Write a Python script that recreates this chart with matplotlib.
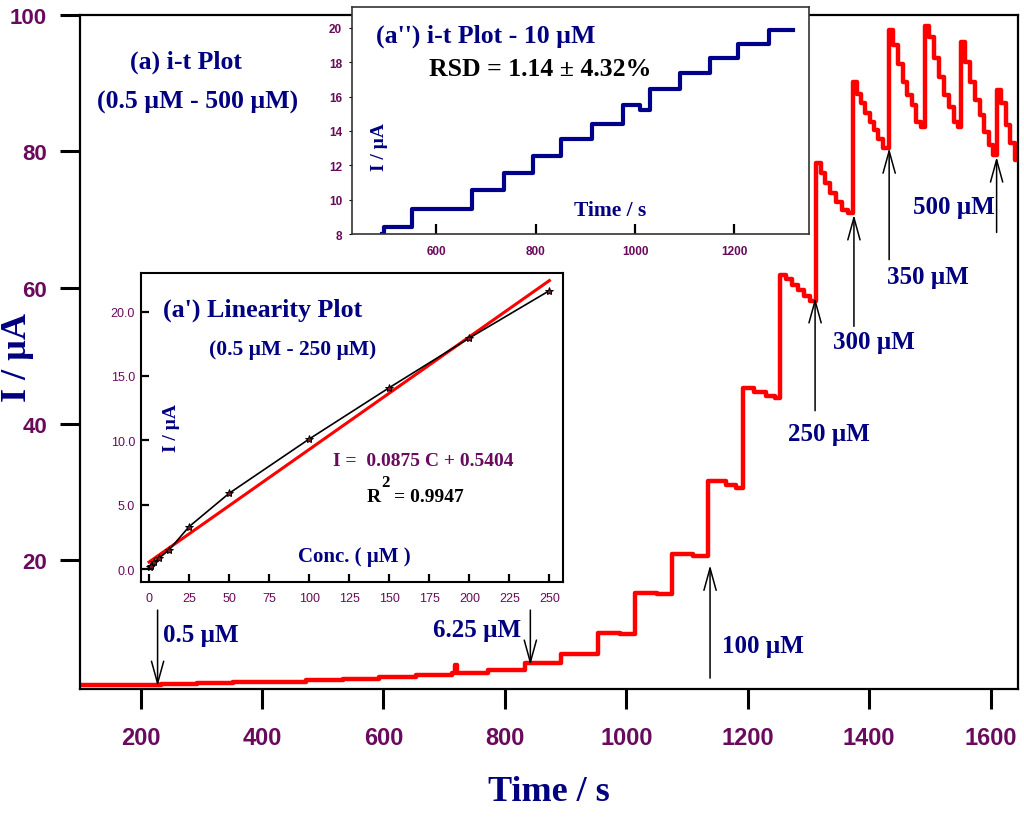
import numpy as np
import matplotlib
matplotlib.use('Agg')
import matplotlib.pyplot as plt

# ---- main i-t trace (time in s, current in uA), stepped
main_t = [100, 233, 293, 353, 413, 473, 533, 593, 653, 713, 718, 721, 773, 833, 893,
          953, 990, 1014, 1050, 1075, 1110, 1134, 1165, 1180,
          1192, 1210, 1230, 1245,
          1253, 1263, 1273, 1283, 1293, 1303,
          1312, 1320, 1328, 1336, 1345, 1355, 1365,
          1373, 1380, 1387, 1394, 1401, 1408, 1415, 1423,
          1432, 1439, 1447, 1455, 1462, 1470, 1478, 1486,
          1492, 1499, 1507, 1515, 1523, 1531, 1539, 1546,
          1551, 1558, 1566, 1574, 1582, 1590, 1597, 1604,
          1610, 1617, 1625, 1632, 1640, 1650]
main_i = [1.58, 1.73, 1.83, 1.98, 2.07, 2.27, 2.46, 2.71, 3.05, 3.39, 4.5, 3.39, 3.78, 4.76, 6.2,
          9.26, 9.1, 15.1, 15.0, 20.9, 20.5, 31.6, 31.0, 30.5,
          45.3, 44.6, 44.0, 43.8,
          61.9, 61.2, 60.4, 59.7, 58.7, 58.0,
          78.3, 76.8, 75.3, 73.9, 72.6, 71.4, 71.0,
          90.2, 88.5, 87.1, 85.6, 84.4, 83.2, 81.9, 80.5,
          97.8, 95.6, 92.9, 90.2, 88.3, 86.8, 84.4, 83.6,
          98.5, 96.8, 93.7, 91.0, 88.3, 86.6, 84.4, 83.6,
          96.1, 93.2, 90.2, 87.5, 85.3, 82.9, 81.0, 79.5,
          89.0, 87.1, 83.9, 81.2, 78.8, 78.8]

# additions marked by arrows: label, time, tail current, tip current
arrow_labels = ['0.5 µM', '6.25 µM', '100 µM', '250 µM', '300 µM', '350 µM', '500 µM']
arrow_t = [228, 842, 1138, 1311, 1375, 1433, 1610]
arrow_tail = [12.6, 12.6, 2.6, 41.9, 54.3, 64.1, 68.1]
arrow_tip = [1.4, 4.5, 19.2, 58.5, 70.7, 80.5, 79.2]
label_t = [237, 681, 1158, 1266, 1340, 1429, 1472]
label_i = [9.0, 9.7, 7.4, 38.6, 52.1, 61.6, 71.9]

# ---- inset (a''): 10 uM additions
ins_t = [491, 495, 552, 672, 736, 795, 850, 913, 976, 1010, 1031, 1091, 1150, 1208, 1269, 1317]
ins_i = [8.0, 8.43, 9.45, 10.57, 11.54, 12.55, 13.55, 14.43, 15.49, 15.2, 16.42, 17.35, 18.26, 19.09, 19.9, 19.9]

# ---- inset (a'): linearity
conc = [0.5, 1, 3.125, 6.25, 12.5, 25, 50, 100, 150, 200, 250]
conc_i = [0.13, 0.26, 0.52, 0.85, 1.48, 3.29, 5.88, 10.1, 14.09, 17.95, 21.63]
slope, intercept = 0.0875, 0.5404
fit_c = np.array([0, 250])

navy = '#000080'
purple = '#6a0a5c'
serif = 'Liberation Serif'
sans = 'Liberation Sans'


def ftext(x, y, s, **kw):
    # place text by pixel position of the 1024x820 figure
    fig.text(x / 1024, 1 - y / 820, s, **kw)


fig = plt.figure(figsize=(10.24, 8.2), dpi=100)

# main axes
ax = fig.add_axes([0.078, 0.1585, 0.916, 0.8215])
ax.plot(main_t, main_i, drawstyle='steps-post', color='red', lw=3.2)
ax.set_xlim(100, 1645)
ax.set_ylim(1, 100)
ax.set_xticks([200, 400, 600, 800, 1000, 1200, 1400, 1600])
ax.set_yticks([20, 40, 60, 80, 100])
ax.tick_params(direction='out', length=14.5, width=2.2, labelcolor=purple)
ax.tick_params(axis='x', pad=12, labelsize=17)
ax.tick_params(axis='y', pad=9, labelsize=16)
for lab in ax.get_xticklabels() + ax.get_yticklabels():
    lab.set_fontfamily(sans)
    lab.set_fontweight('bold')
for sp in ax.spines.values():
    sp.set_linewidth(1.6)

for lab, t, a0, a1, lt, li in zip(arrow_labels, arrow_t, arrow_tail, arrow_tip, label_t, label_i):
    ax.annotate('', xy=(t, a1), xytext=(t, a0),
                arrowprops=dict(arrowstyle='->,head_length=0.8,head_width=0.22',
                                color='black', lw=1.1, mutation_scale=20,
                                shrinkA=0, shrinkB=0))
    ax.text(lt, li, lab, color=navy, fontsize=18, fontweight='bold', family=serif,
            ha='left', va='center')

ftext(186, 62, '(a) i-t Plot', color=navy, fontsize=18.5, fontweight='bold', family=serif,
      ha='center', va='center')
ftext(198, 102, '(0.5 µM - 500 µM)', color=navy, fontsize=18.5, fontweight='bold', family=serif,
      ha='center', va='center')
ftext(549, 793, 'Time / s', color=navy, fontsize=26, fontweight='bold', family=serif,
      ha='center', va='center')
ftext(18, 358, 'I / µA', color=navy, fontsize=26, fontweight='bold', family=serif,
      ha='center', va='center', rotation=90)

# inset (a'') i-t plot 10 uM
ax1 = fig.add_axes([0.3435, 0.7134, 0.4466, 0.2765])
ax1.plot(ins_t, ins_i, drawstyle='steps-post', color='#00008b', lw=3)
ax1.set_xlim(430, 1350)
ax1.set_ylim(8, 21.2)
ax1.set_xticks([600, 800, 1000, 1200])
ax1.set_yticks([8, 10, 12, 14, 16, 18, 20])
ax1.tick_params(axis='x', direction='in', length=7, width=1.6, pad=8,
                labelsize=8.5, labelcolor=purple)
ax1.tick_params(axis='y', direction='out', length=2, width=0.8, pad=5,
                labelsize=8.5, labelcolor=purple)
for lab in ax1.get_xticklabels() + ax1.get_yticklabels():
    lab.set_fontfamily(sans)
    lab.set_fontweight('bold')
for sp in ax1.spines.values():
    sp.set_linewidth(1.2)
    sp.set_color('#333333')

ftext(376, 36, "(a'') i-t Plot - 10 µM", color=navy, fontsize=18.5, fontweight='bold',
      family=serif, ha='left', va='center')
ftext(429, 70, 'RSD = 1.14 ± 4.32%', color='black', fontsize=18.5, fontweight='bold',
      family=serif, ha='left', va='center')
ftext(380, 147, 'I / µA', color=navy, fontsize=14, fontweight='bold', family=serif,
      ha='center', va='center', rotation=90)
ftext(610, 211, 'Time / s', color=navy, fontsize=15.5, fontweight='bold', family=serif,
      ha='center', va='center')

# inset (a') linearity plot
ax2 = fig.add_axes([0.1374, 0.2887, 0.4121, 0.3768])
ax2.plot(fit_c, slope * fit_c + intercept, color='red', lw=2.2)
ax2.plot(conc, conc_i, color='black', lw=1.2, marker='*', markersize=6,
         markerfacecolor='#7a1a1a', markeredgecolor='black', markeredgewidth=0.7)
ax2.set_xlim(-5.2, 258.3)
ax2.set_ylim(-1.03, 22.98)
ax2.set_xticks(np.arange(0, 251, 25))
ax2.set_yticks([0, 5, 10, 15, 20])
ax2.set_yticklabels(['0.0', '5.0', '10.0', '15.0', '20.0'])
ax2.tick_params(direction='in', length=6, width=1.6, labelsize=9, labelcolor=purple)
ax2.tick_params(axis='x', pad=7)
ax2.tick_params(axis='y', pad=4)
for lab in ax2.get_xticklabels() + ax2.get_yticklabels():
    lab.set_fontfamily(sans)
for sp in ax2.spines.values():
    sp.set_linewidth(1.5)

ftext(163, 310, "(a') Linearity Plot", color=navy, fontsize=18.7, fontweight='bold',
      family=serif, ha='left', va='center')
ftext(293, 350, '(0.5 µM - 250 µM)', color=navy, fontsize=15.5, fontweight='bold',
      family=serif, ha='center', va='center')
ftext(171, 428, 'I / µA', color=navy, fontsize=14, fontweight='bold', family=serif,
      ha='center', va='center', rotation=90)
ftext(333, 462, 'I =  0.0875 C + 0.5404', color=purple, fontsize=14, fontweight='bold',
      family=serif, ha='left', va='center')
ftext(367, 498, 'R', color='black', fontsize=14, fontweight='bold', family=serif,
      ha='left', va='center')
ftext(381, 483, '2', color='black', fontsize=12, fontweight='bold', family=serif,
      ha='left', va='center')
ftext(394, 498, '= 0.9947', color='black', fontsize=14, fontweight='bold', family=serif,
      ha='left', va='center')
ftext(354, 557, 'Conc. ( µM )', color=navy, fontsize=15, fontweight='bold', family=serif,
      ha='center', va='center')

fig.savefig('out.png', dpi=100)
